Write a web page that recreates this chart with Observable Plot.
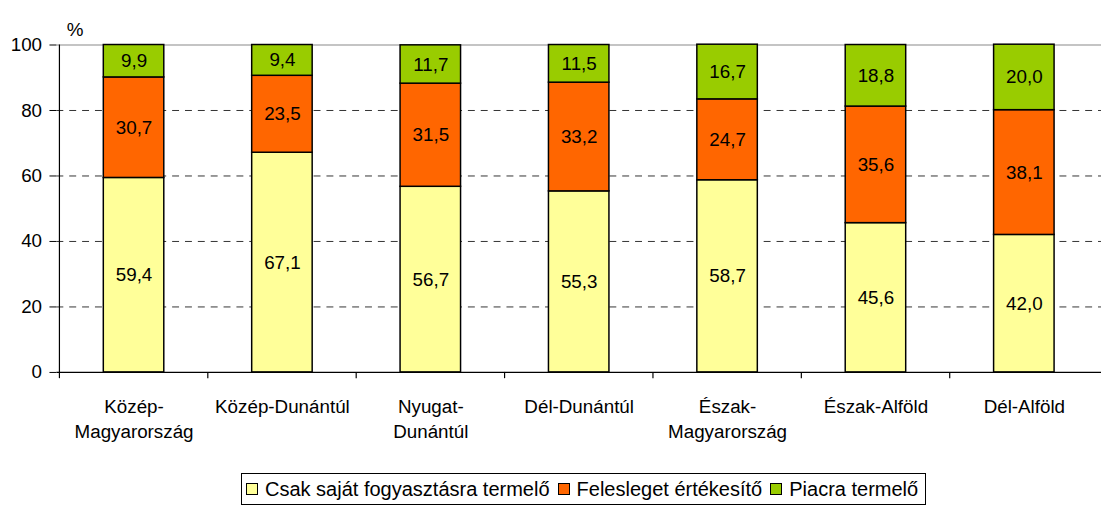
<!DOCTYPE html>
<html>
<head>
<meta charset="utf-8">
<script src="https://cdn.jsdelivr.net/npm/d3@7"></script>
<script src="https://cdn.jsdelivr.net/npm/@observablehq/plot@0.6"></script>
<style>
  html, body { margin: 0; padding: 0; background: #fff; overflow: hidden; width: 1101px; height: 507px; }
  body { font-family: "Liberation Sans", Arial, sans-serif; }
  #chart { position: absolute; left: 0; top: 0; }
  #legend {
    position: absolute; left: 241px; top: 473px; height: 32px;
    border: 1px solid #000; box-sizing: border-box;
    display: flex; align-items: center; padding: 0 7px 0 4px;
    font-size: 20px; color: #000; white-space: nowrap;
  }
  .item { display: flex; align-items: center; margin-right: 8px; }
  .item:last-child { margin-right: 0; }
  .sw { width: 10px; height: 10px; border: 1px solid #000; margin-right: 7px; }
</style>
</head>
<body>
<div id="chart"></div>
<div id="legend"></div>
<script>
const categories = ["Közép-Magyarország", "Közép-Dunántúl", "Nyugat-Dunántúl", "Dél-Dunántúl", "Észak-Magyarország", "Észak-Alföld", "Dél-Alföld"];
const categoryLabels = ["Közép-\nMagyarország", "Közép-Dunántúl", "Nyugat-\nDunántúl", "Dél-Dunántúl", "Észak-\nMagyarország", "Észak-Alföld", "Dél-Alföld"];
const seriesNames = ["Csak saját fogyasztásra termelő", "Felesleget értékesítő", "Piacra termelő"];
const colors = ["#FFFF99", "#FF6600", "#99CC00"];
const sajat = [59.4, 67.1, 56.7, 55.3, 58.7, 45.6, 42.0];
const felesleg = [30.7, 23.5, 31.5, 33.2, 24.7, 35.6, 38.1];
const piac = [9.9, 9.4, 11.7, 11.5, 16.7, 18.8, 20.0];
const yTicks = [0, 20, 40, 60, 80, 100];
const gridTicks = [20, 40, 60, 80];

const seriesValues = [sajat, felesleg, piac];
const rows = [];
categories.forEach((c, i) => {
  let base = 0;
  seriesValues.forEach((vals, s) => {
    const v = vals[i];
    rows.push({cat: c, series: seriesNames[s], value: v, y1: base, y2: base + v, mid: base + v / 2});
    base += v;
  });
});

const W = 1113, H = 465, ML = 57, MR = 0, MT = 45, MB = 89;
const step = (W - ML - MR) / categories.length;
const fmt = v => v.toFixed(1).replace(".", ",");
const font = "Liberation Sans, Arial, sans-serif";
const FS = 19;

const chart = Plot.plot({
  width: W, height: H,
  marginLeft: ML, marginRight: MR, marginTop: MT, marginBottom: MB,
  style: {fontFamily: font, fontSize: FS + "px", color: "#000", background: "transparent", overflow: "visible"},
  x: {domain: categories, padding: 0, axis: null},
  y: {domain: [0, 100], axis: null},
  color: {domain: seriesNames, range: colors},
  marks: [
    Plot.ruleY([100], {stroke: "#b0b0b0", strokeWidth: 1.5}),
    Plot.ruleY(gridTicks, {stroke: "#333", strokeWidth: 1, strokeDasharray: "7,6"}),
    Plot.barY(rows, {x: "cat", y1: "y1", y2: "y2", fill: "series", stroke: "#000", strokeWidth: 1.5, insetLeft: (step - 62) / 2, insetRight: (step - 62) / 2}),
    Plot.text(rows, {x: "cat", y: "mid", text: d => fmt(d.value), fontSize: FS, fill: "#000"}),
    Plot.ruleY([0], {stroke: "#000", strokeWidth: 1.2}),
    Plot.ruleX(categories, {x: d => d, dx: -step / 2, y1: -1.9, y2: 0, stroke: "#000", strokeWidth: 1.2}),
    Plot.ruleX([categories[0]], {x: d => d, dx: -step / 2, y1: 0, y2: 100, stroke: "#000", strokeWidth: 1.2}),
    Plot.axisY({ticks: yTicks, tickSize: 7, tickPadding: 8, fontSize: FS, tickFormat: d => String(d), stroke: "#000", label: null}),
    Plot.axisX({tickSize: 0, tickPadding: 23, fontSize: FS, lineHeight: 1.33, label: null, tickFormat: d => categoryLabels[categories.indexOf(d)]}),
    Plot.text(["%"], {frameAnchor: "top-left", dx: 10, dy: -23, textAnchor: "start", fontSize: FS})
  ]
});
document.getElementById("chart").appendChild(chart);

const legend = document.getElementById("legend");
seriesNames.forEach((n, i) => {
  const it = document.createElement("div");
  it.className = "item";
  const sw = document.createElement("div");
  sw.className = "sw";
  sw.style.background = colors[i];
  it.appendChild(sw);
  const t = document.createElement("span");
  t.textContent = n;
  it.appendChild(t);
  legend.appendChild(it);
});
</script>
</body>
</html>
